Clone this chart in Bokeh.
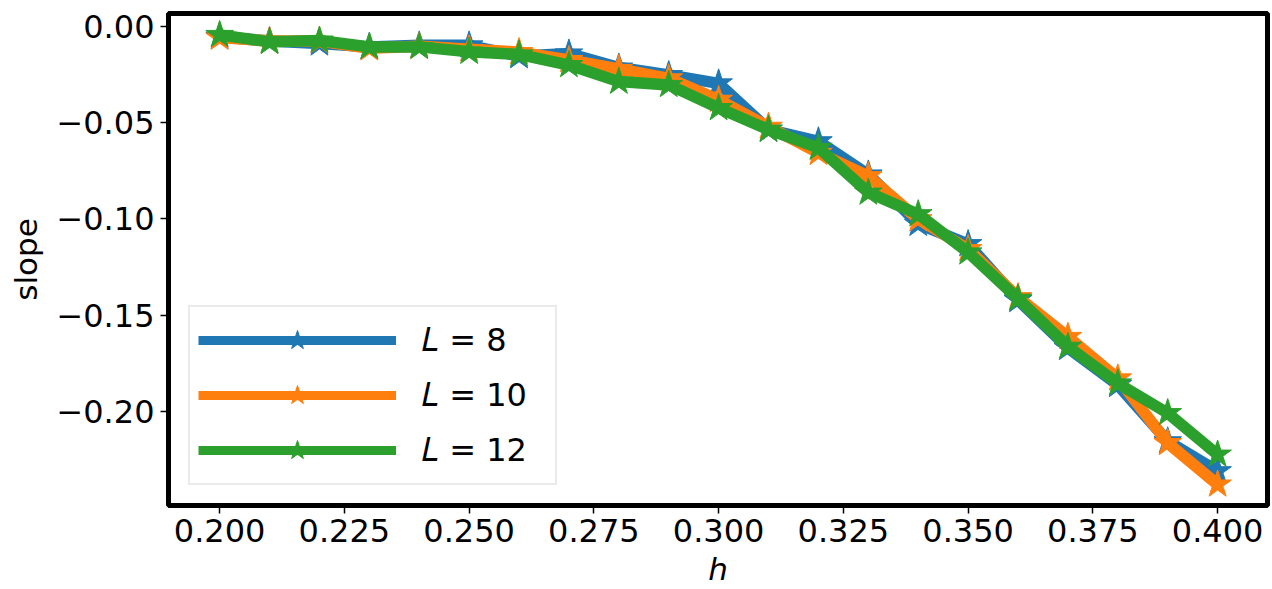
from bokeh.plotting import figure
from bokeh.models import (Range1d, FixedTicker, CustomJSTickFormatter, Legend, LegendItem)
from bokeh.embed import file_html
from bokeh.resources import INLINE

# ---- data ----
h = [0.20, 0.21, 0.22, 0.23, 0.24, 0.25, 0.26, 0.27, 0.28, 0.29, 0.30,
     0.31, 0.32, 0.33, 0.34, 0.35, 0.36, 0.37, 0.38, 0.39, 0.40]
slope_L8 = [-0.0055, -0.0078, -0.0090, -0.0108, -0.0100, -0.0100, -0.0156, -0.0142,
            -0.0215, -0.0254, -0.0297, -0.0537, -0.0597, -0.0769, -0.1025, -0.1130,
            -0.1420, -0.1668, -0.1860, -0.2152, -0.2307]
slope_L10 = [-0.0060, -0.0077, -0.0078, -0.0115, -0.0105, -0.0120, -0.0135, -0.0176,
             -0.0222, -0.0271, -0.0382, -0.0522, -0.0657, -0.0778, -0.1001, -0.1156,
             -0.1405, -0.1611, -0.1826, -0.2161, -0.2376]
slope_L12 = [-0.0046, -0.0082, -0.0075, -0.0108, -0.0108, -0.0133, -0.0147, -0.0202,
             -0.0288, -0.0305, -0.0425, -0.0537, -0.0631, -0.0863, -0.0975, -0.1173,
             -0.1413, -0.1662, -0.1852, -0.2006, -0.2221]
labels = ["\U0001D43F = 8", "\U0001D43F = 10", "\U0001D43F = 12"]
x_ticks = [0.200, 0.225, 0.250, 0.275, 0.300, 0.325, 0.350, 0.375, 0.400]
y_ticks = [0.00, -0.05, -0.10, -0.15, -0.20]

colors = ["#1f77b4", "#ff7f0e", "#2ca02c"]
FONT = "DejaVu Sans"
FS = "32px"
NAN = float("nan")

p = figure(width=1272, height=589, output_backend="svg", toolbar_location=None,
           x_range=Range1d(0.18975, 0.41), y_range=Range1d(-0.2485, 0.0065),
           min_border_left=168, min_border_right=5, min_border_top=13, min_border_bottom=82)
p.background_fill_color = "white"
p.border_fill_color = "white"
p.outline_line_color = "black"
p.outline_line_width = 5
p.grid.visible = False

for ax in (p.xaxis[0], p.yaxis[0]):
    ax.axis_line_color = None
    ax.major_tick_out = 8
    ax.major_tick_in = 0
    ax.major_tick_line_width = 1.5
    ax.minor_tick_line_color = None
    ax.major_label_text_font = FONT
    ax.major_label_text_font_size = FS
    ax.major_label_text_color = "black"
    ax.axis_label_text_font = FONT
    ax.axis_label_text_font_size = "31px"
    ax.axis_label_text_color = "black"

p.xaxis.ticker = FixedTicker(ticks=x_ticks)
p.yaxis.ticker = FixedTicker(ticks=y_ticks)
p.xaxis.formatter = CustomJSTickFormatter(code="return tick.toFixed(3);")
p.yaxis.formatter = CustomJSTickFormatter(
    code="var s = Math.abs(tick).toFixed(2); return (tick < -1e-9 ? '\u2212' : '') + s;")
p.xaxis.major_label_standoff = 5
p.yaxis.major_label_standoff = 6
p.xaxis.axis_label = "h"
p.xaxis.axis_label_text_font_style = "italic"
p.xaxis.axis_label_standoff = 6
p.yaxis.axis_label = "slope"
p.yaxis.axis_label_text_font_style = "normal"
p.yaxis.axis_label_standoff = 9

items = []
for ys, c, lab in zip([slope_L8, slope_L10, slope_L12], colors, labels):
    p.line(h, ys, line_color=c, line_width=11.5, line_join="round")
    p.scatter(h, ys, marker="star", size=29, fill_color=c, line_color=c, line_width=1)
    # legend-only renderers (thinner line as in the reference legend); NaN data draws nothing
    lr = p.line([NAN], [NAN], line_color=c, line_width=9)
    sr = p.scatter([NAN], [NAN], marker="star", fill_color=c, line_color=c, line_width=1)
    items.append(LegendItem(label=lab, renderers=[lr, sr]))

legend = Legend(items=items, location="bottom_left", margin=20, padding=8,
                glyph_width=198, glyph_height=50, spacing=5, label_standoff=25,
                label_width=126,
                label_text_font=FONT, label_text_font_size=FS, label_text_color="black",
                border_line_color="#d6d6d6", border_line_width=2,
                background_fill_color="white", background_fill_alpha=1.0)
p.add_layout(legend)

open("out.html", "w").write(file_html(p, INLINE))
